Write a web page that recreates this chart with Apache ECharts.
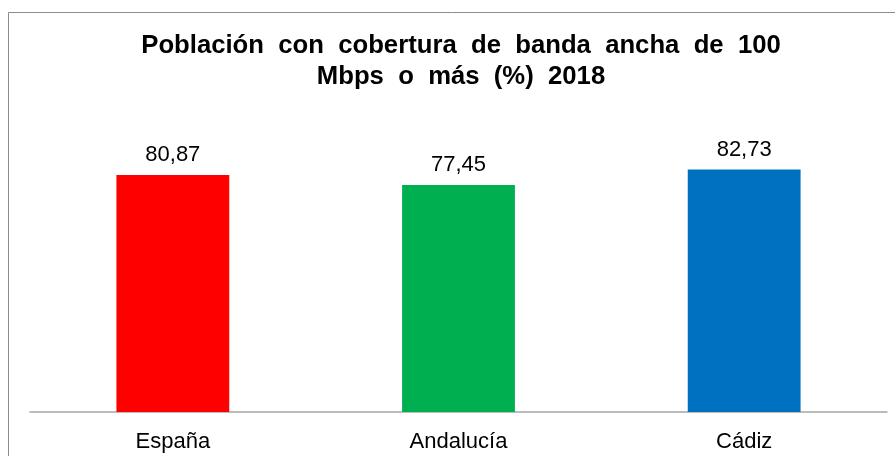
<!DOCTYPE html>
<html>
<head>
<meta charset="utf-8">
<script src="https://cdn.jsdelivr.net/npm/echarts@6/dist/echarts.min.js"></script>
<style>html,body{margin:0;padding:0;background:#fff;}#c{width:895px;height:456px;}</style>
</head>
<body>
<div id="c"></div>
<script>
var titleText = 'Población  con  cobertura  de  banda  ancha  de  100\nMbps  o  más  (%)  2018';
var categories = ['España', 'Andalucía', 'Cádiz'];
var values = [80.87, 77.45, 82.73];
var barColors = ['#FF0000', '#00B050', '#0070C0'];

var chart = echarts.init(document.getElementById('c'));
chart.setOption({
  animation: false,
  backgroundColor: '#fff',
  title: {
    text: titleText,
    left: 456,
    textAlign: 'center',
    top: 25,
    padding: 5,
    textStyle: {
      fontFamily: 'Liberation Sans, Arial, sans-serif',
      fontSize: 25.7,
      fontWeight: 'bold',
      color: '#000',
      lineHeight: 31
    }
  },
  graphic: [{
    type: 'rect',
    shape: { x: 8.5, y: 12.5, width: 900, height: 460 },
    style: { fill: null, stroke: '#8c8c8c', lineWidth: 1 },
    silent: true
  }],
  grid: { left: 30, right: 8, top: 119, bottom: 44, containLabel: false },
  xAxis: {
    type: 'category',
    data: categories,
    axisLine: { show: true, lineStyle: { color: '#a6a6a6', width: 1.5 } },
    axisTick: { show: false },
    axisLabel: {
      margin: 19,
      fontFamily: 'Liberation Sans, Arial, sans-serif',
      fontSize: 22,
      color: '#000'
    }
  },
  yAxis: {
    type: 'value',
    min: 0,
    max: 100,
    show: false,
    splitLine: { show: false }
  },
  series: [{
    type: 'bar',
    barWidth: '39.5%',
    data: values.map(function (v, i) {
      return { value: v, itemStyle: { color: barColors[i] } };
    }),
    label: {
      show: true,
      position: 'top',
      distance: 9,
      fontFamily: 'Liberation Sans, Arial, sans-serif',
      fontSize: 22,
      color: '#000',
      formatter: function (p) { return p.value.toFixed(2).replace('.', ','); }
    }
  }]
});
</script>
</body>
</html>
